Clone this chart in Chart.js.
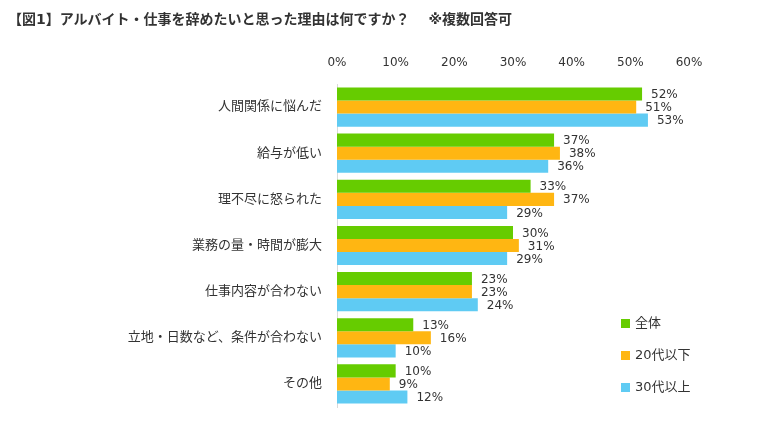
<!DOCTYPE html>
<html lang="ja">
<head>
    <meta charset="UTF-8">
    <title>アルバイト・仕事を辞めたいと思った理由</title>
    <script src="https://cdn.jsdelivr.net/npm/chart.js"></script>
    <style>
        body {
            margin: 0;
            background: #fff;
            font-family: "DejaVu Sans", "Noto Sans CJK JP", sans-serif;
            color: #333;
        }
        #wrap {
            position: relative;
            width: 783px;
            height: 431px;
        }
        #title {
            position: absolute;
            left: 8px;
            top: 8px;
            font-size: 14px;
            font-weight: bold;
            white-space: pre;
        }
        .legend {
            position: absolute;
            left: 621px;
            font-size: 13px;
            line-height: 16px;
        }
        .legend span {
            display: inline-block;
            width: 9px;
            height: 9px;
            margin-right: 5px;
            vertical-align: -1px;
        }
    </style>
</head>
<body>
<div id="wrap">
    <div id="title">【図1】アルバイト・仕事を辞めたいと思った理由は何ですか？　 ※複数回答可</div>
    <canvas id="chart" width="783" height="431"></canvas>
    <div id="legend"></div>
</div>

<script>
    // categories
    const reasons = [
        '人間関係に悩んだ',
        '給与が低い',
        '理不尽に怒られた',
        '業務の量・時間が膨大',
        '仕事内容が合わない',
        '立地・日数など、条件が合わない',
        'その他'
    ];

    // series values (%)
    const allValues = [52, 37, 33, 30, 23, 13, 10];
    const age20Values = [51, 38, 37, 31, 23, 16, 9];
    const age30Values = [53, 36, 29, 29, 24, 10, 12];

    const seriesNames = ['全体', '20代以下', '30代以上'];
    const seriesColors = ['#66cc00', '#ffb612', '#5fcbf3'];

    // x axis ticks
    const xTicks = [0, 10, 20, 30, 40, 50, 60];

    const ctx = document.getElementById('chart').getContext('2d');

    // value labels at bar ends
    const barLabels = {
        id: 'barLabels',
        afterDatasetsDraw(chart) {
            const c = chart.ctx;
            c.save();
            c.font = '12px "DejaVu Sans", "Noto Sans CJK JP", sans-serif';
            c.fillStyle = '#333';
            c.textAlign = 'left';
            c.textBaseline = 'middle';
            chart.data.datasets.forEach((ds, i) => {
                chart.getDatasetMeta(i).data.forEach((bar, j) => {
                    c.fillText(ds.data[j] + '%', bar.x + 9, bar.y + 1);
                });
            });
            c.restore();
        }
    };

    new Chart(ctx, {
        type: 'bar',
        data: {
            labels: reasons,
            datasets: [
                { label: seriesNames[0], data: allValues, backgroundColor: seriesColors[0] },
                { label: seriesNames[1], data: age20Values, backgroundColor: seriesColors[1] },
                { label: seriesNames[2], data: age30Values, backgroundColor: seriesColors[2] }
            ]
        },
        options: {
            indexAxis: 'y',
            responsive: false,
            animation: false,
            layout: {
                padding: { top: 50, right: 94, bottom: 24, left: 0 }
            },
            datasets: {
                bar: {
                    categoryPercentage: 0.85,
                    barPercentage: 1.0
                }
            },
            plugins: {
                legend: { display: false },
                tooltip: { enabled: false },
                title: { display: false }
            },
            scales: {
                x: {
                    position: 'top',
                    min: 0,
                    max: 60,
                    afterBuildTicks(scale) {
                        scale.ticks = xTicks.map(v => ({ value: v }));
                    },
                    afterFit(scale) {
                        scale.height = 34;
                    },
                    grid: { display: false, drawTicks: false },
                    border: { display: false },
                    ticks: {
                        padding: 14,
                        color: '#333',
                        font: { family: '"DejaVu Sans", "Noto Sans CJK JP", sans-serif', size: 12 },
                        callback: v => v + '%'
                    }
                },
                y: {
                    afterFit(scale) {
                        scale.width = 337;
                    },
                    grid: { display: false, drawTicks: false },
                    border: { display: true, color: '#d9d9d9', width: 1 },
                    ticks: {
                        padding: 15,
                        color: '#333',
                        font: { family: '"DejaVu Sans", "Noto Sans CJK JP", sans-serif', size: 13 }
                    }
                }
            }
        },
        plugins: [barLabels]
    });

    // legend on the lower right
    const legendTops = [315, 347, 379];
    const legendBox = document.getElementById('legend');
    seriesNames.forEach((name, i) => {
        const item = document.createElement('div');
        item.className = 'legend';
        item.style.top = legendTops[i] + 'px';
        item.innerHTML = '<span style="background:' + seriesColors[i] + '"></span>' + name;
        legendBox.appendChild(item);
    });
</script>
</body>
</html>
